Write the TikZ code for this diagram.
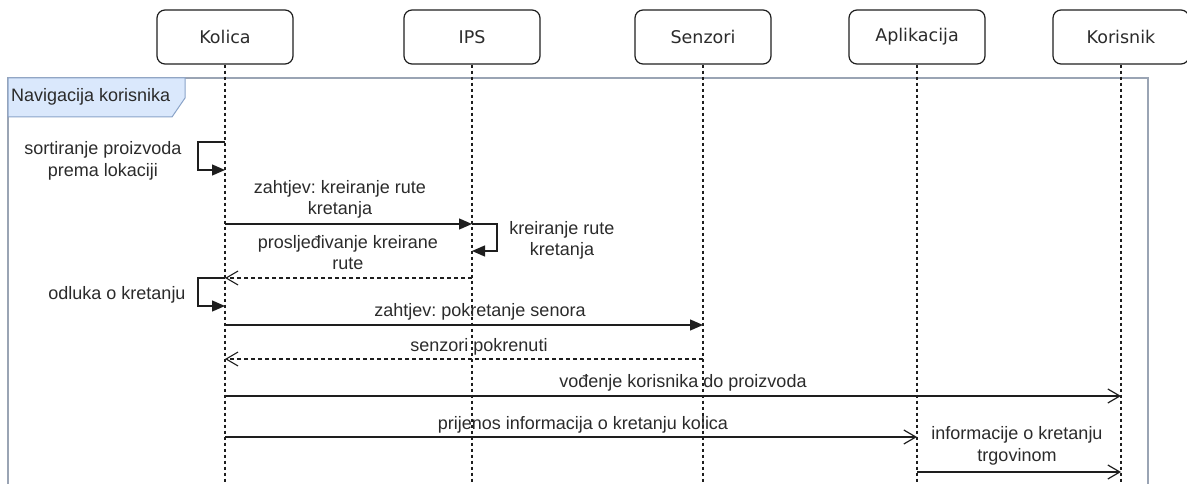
\documentclass[tikz,border=0pt]{standalone}
\usepackage{fontspec}
\setmainfont{Liberation Sans}
\newfontfamily\headfont{DejaVu Sans}
\usetikzlibrary{arrows.meta}
\frenchspacing

\definecolor{ink}{HTML}{2B2B2B}
\definecolor{wire}{HTML}{1E1E1E}
\definecolor{framegray}{HTML}{9AA4B4}
\definecolor{tagfill}{HTML}{DAE8FC}
\definecolor{tagline}{HTML}{8AA3C8}

\tikzset{
  actor/.style={draw=wire, line width=1.2pt, rounded corners=8pt,
    minimum width=136pt, minimum height=54pt, text=ink,
    font=\headfont\fontsize{17.5}{21}\selectfont},
  lifeline/.style={draw=wire, line width=1.1pt, dash pattern=on 3pt off 3pt},
  sync/.style={draw=wire, line width=1.3pt, -{Triangle[length=13pt,width=11pt]}},
  async/.style={draw=wire, line width=1.2pt, -{Straight Barb[length=12pt,width=14pt,line width=1.2pt]}},
  reply/.style={draw=wire, line width=1.1pt, dash pattern=on 4pt off 3pt,
    -{Straight Barb[length=12pt,width=14pt,line width=1.1pt]}},
  msg/.style={text=ink, align=center, inner sep=0pt,
    font=\fontsize{18}{21.6}\selectfont},
}

\begin{document}
\begin{tikzpicture}[x=1pt,y=-1pt]
\useasboundingbox (0,0) rectangle (1187,484);
\clip (0,0) rectangle (1187,484);

% combined fragment frame and its tag
\draw[framegray, line width=1.3pt] (8,78) rectangle (1148,520);
\draw[draw=tagline, fill=tagfill, line width=1pt]
  (8,78) -- (185,78) -- (185,98) -- (172,117) -- (8,117) -- cycle;
\node[msg, anchor=west] (fragtag) at (11,97) {Navigacija korisnika};

% participants
\node[actor] (kolica) at (225,37) {Kolica};
\node[actor] (ips) at (472,37) {IPS};
\node[actor] (senzori) at (703,37) {Senzori};
\node[actor] (aplikacija) at (917,37) {Aplikacija};
\node[actor] (korisnik) at (1121,37) {Korisnik};

% lifelines
\foreach \p in {kolica,ips,senzori,aplikacija,korisnik}{
  \coordinate (\p-end) at (\p |- 0,490);
  \draw[lifeline] (\p.south) -- (\p-end);
}

% anchor points on the lifelines
\coordinate (k-sortA) at (kolica |- 0,142);
\coordinate (k-sortB) at (kolica |- 0,170);
\coordinate (k-req) at (kolica |- 0,224);
\coordinate (i-req) at (ips |- 0,224);
\coordinate (i-self) at (ips |- 0,251);
\coordinate (i-ret) at (ips |- 0,278);
\coordinate (k-ret) at (kolica |- 0,278);
\coordinate (k-odl) at (kolica |- 0,306);
\coordinate (k-sen) at (kolica |- 0,325);
\coordinate (s-sen) at (senzori |- 0,325);
\coordinate (s-ok) at (senzori |- 0,359);
\coordinate (k-ok) at (kolica |- 0,359);
\coordinate (k-vod) at (kolica |- 0,396);
\coordinate (u-vod) at (korisnik |- 0,396);
\coordinate (k-inf) at (kolica |- 0,437);
\coordinate (a-inf) at (aplikacija |- 0,437);
\coordinate (a-trg) at (aplikacija |- 0,472);
\coordinate (u-trg) at (korisnik |- 0,472);

% messages
\draw[sync] (k-sortA) -- ++(-27,0) |- (k-sortB);
\node[msg] (sortlbl) at (103,161) {sortiranje proizvoda\\prema lokaciji};

\draw[sync] (k-req) -- (i-req);
\node[msg] (reqlbl) at (340,199.5) {zahtjev: kreiranje rute\\kretanja};

\draw[sync] (i-req) -- ++(25,0) |- (i-self);
\node[msg] (selflbl) at (562,240.5) {kreiranje rute\\kretanja};

\draw[reply] (i-ret) -- (k-ret);
\node[msg] (retlbl) at (348,252.5) {prosljeđivanje kreirane\\rute};

\draw[sync] (k-ret) -- ++(-27,0) |- (k-odl);
\node[msg] (odllbl) at (117,295) {odluka o kretanju};

\draw[sync] (k-sen) -- (s-sen);
\node[msg] (senlbl) at (480,312) {zahtjev: pokretanje senora};

\draw[reply] (s-ok) -- (k-ok);
\node[msg] (oklbl) at (479,347) {senzori pokrenuti};

\draw[async] (k-vod) -- (u-vod);
\node[msg] (vodlbl) at (683,383) {vođenje korisnika do proizvoda};

\draw[async] (k-inf) -- (a-inf);
\node[msg] (inflbl) at (583,425) {prijenos informacija o kretanju kolica};

\draw[async] (a-trg) -- (u-trg);
\node[msg] (trglbl) at (1017,446) {informacije o kretanju\\trgovinom};
\end{tikzpicture}
\end{document}
